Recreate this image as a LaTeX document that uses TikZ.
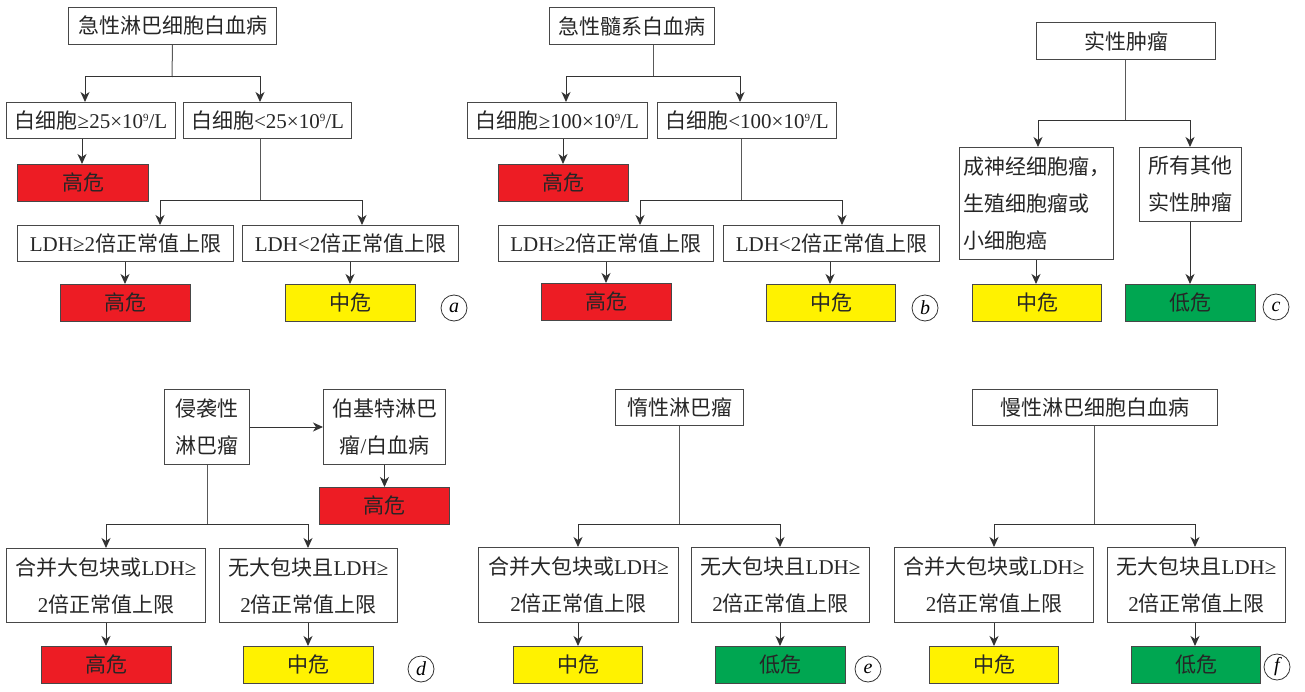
\documentclass[tikz,border=0pt]{standalone}
\usepackage{fontspec}
\setmainfont{Noto Sans CJK SC}
\newfontfamily\lat{Liberation Serif}
\usetikzlibrary{arrows.meta}
\definecolor{rd}{RGB}{237,28,36}
\definecolor{yl}{RGB}{255,242,0}
\definecolor{gn}{RGB}{0,166,81}
\newcommand\mysupr[1]{\raisebox{7pt}{\fontsize{11}{11}\selectfont #1}}
\tikzset{
  box/.style={draw=black!72, line width=1pt, inner sep=0pt, anchor=north west, align=center,
    text=black!85, font=\fontsize{21}{37}\selectfont},
  rbox/.style={box, fill=rd},
  ybox/.style={box, fill=yl},
  gbox/.style={box, fill=gn},
  ln/.style={draw=black!65, line width=1pt},
  arr/.style={draw=black!80, line width=1pt, -{Stealth[length=10pt,width=9pt,inset=3pt]}},
  lab/.style={circle, draw=black!80, line width=0.8pt, minimum size=26pt, inner sep=0pt,
    font=\lat\itshape\fontsize{20}{20}\selectfont}
}
\begin{document}
\begin{tikzpicture}[x=1pt,y=-1pt]
\useasboundingbox (0,0) rectangle (1305,692);
% ---------- panel a ----------
\node[box, minimum width=208pt, minimum height=37pt] (a0) at (68,7) {急性淋巴细胞白血病};
\node[box, minimum width=169pt, minimum height=36pt] (a1) at (6,102) {白细胞{\lat ≥25×10\mysupr{9}/L}};
\node[box, minimum width=168pt, minimum height=36pt] (a2) at (183,102) {白细胞{\lat <25×10\mysupr{9}/L}};
\node[rbox, minimum width=131pt, minimum height=37pt] (a3) at (17,164) {高危};
\node[box, minimum width=216pt, minimum height=36pt] (a4) at (17,225) {{\lat LDH≥2}倍正常值上限};
\node[box, minimum width=216pt, minimum height=36pt] (a5) at (242,225) {{\lat LDH<2}倍正常值上限};
\node[rbox, minimum width=130pt, minimum height=37pt] (a6) at (60,284) {高危};
\node[ybox, minimum width=130pt, minimum height=37pt] (a7) at (285,284) {中危};
\node[lab] (la) at (454,308) {a};
\coordinate (ja) at (172,77);
\coordinate (jb) at (260,201);
\draw[ln] (a0.south) -- (ja);
\draw[arr] (ja) -| (a1.north -| 85,0);
\draw[arr] (ja) -| (a2.north -| 260,0);
\draw[arr] (a1.south -| 82,0) -- (a3.north -| 82,0);
\draw[ln] (a2.south -| jb) -- (jb);
\draw[arr] (jb) -| (a4.north -| 160,0);
\draw[arr] (jb) -| (a5.north -| 362,0);
\draw[arr] (a4.south -| 125,0) -- (a6.north -| 125,0);
\draw[arr] (a5.south -| 350,0) -- (a7.north -| 350,0);
% ---------- panel b ----------
\node[box, minimum width=165pt, minimum height=37pt] (b0) at (549,7) {急性髓系白血病};
\node[box, minimum width=180pt, minimum height=36pt] (b1) at (467,102) {白细胞{\lat ≥100×10\mysupr{9}/L}};
\node[box, minimum width=179pt, minimum height=36pt] (b2) at (657,102) {白细胞{\lat <100×10\mysupr{9}/L}};
\node[rbox, minimum width=130pt, minimum height=37pt] (b3) at (498,164) {高危};
\node[box, minimum width=215pt, minimum height=36pt] (b4) at (498,225) {{\lat LDH≥2}倍正常值上限};
\node[box, minimum width=216pt, minimum height=36pt] (b5) at (723,225) {{\lat LDH<2}倍正常值上限};
\node[rbox, minimum width=130pt, minimum height=37pt] (b6) at (541,283) {高危};
\node[ybox, minimum width=129pt, minimum height=37pt] (b7) at (766,284) {中危};
\node[lab] (lb) at (925,308) {b};
\coordinate (jc) at (653,77);
\coordinate (jd) at (741,201);
\draw[ln] (b0.south -| jc) -- (jc);
\draw[arr] (jc) -| (b1.north -| 566,0);
\draw[arr] (jc) -| (b2.north -| 740,0);
\draw[arr] (b1.south -| 563,0) -- (b3.north -| 563,0);
\draw[ln] (b2.south -| jd) -- (jd);
\draw[arr] (jd) -| (b4.north -| 640,0);
\draw[arr] (jd) -| (b5.north -| 842,0);
\draw[arr] (b4.south -| 606,0) -- (b6.north -| 606,0);
\draw[arr] (b5.south -| 830,0) -- (b7.north -| 830,0);
% ---------- panel c ----------
\node[box, minimum width=179pt, minimum height=37pt] (c0) at (1036,22) {实性肿瘤};
\node[box, minimum width=154pt, minimum height=112pt, align=left] (c1) at (959,147) {成神经细胞瘤，\\生殖细胞瘤或\\小细胞癌};
\node[box, minimum width=102pt, minimum height=74pt] (c2) at (1139,147) {所有其他\\实性肿瘤};
\node[ybox, minimum width=129pt, minimum height=37pt] (c3) at (972,284) {中危};
\node[gbox, minimum width=130pt, minimum height=37pt] (c4) at (1125,284) {低危};
\node[lab] (lc) at (1276,307) {c};
\coordinate (je) at (1125,121);
\draw[ln] (c0.south -| je) -- (je);
\draw[arr] (je) -| (c1.north -| 1038,0);
\draw[arr] (je) -| (c2.north -| 1190,0);
\draw[arr] (c1.south -| 1036,0) -- (c3.north -| 1036,0);
\draw[arr] (c2.south -| 1190,0) -- (c4.north -| 1190,0);
% ---------- panel d ----------
\node[box, minimum width=85pt, minimum height=75pt] (d0) at (164,389) {侵袭性\\淋巴瘤};
\node[box, minimum width=122pt, minimum height=75pt] (d1) at (323,389) {伯基特淋巴\\瘤{\lat /}白血病};
\node[rbox, minimum width=130pt, minimum height=37pt] (d2) at (319,487) {高危};
\node[box, minimum width=199pt, minimum height=74pt] (d3) at (6,548) {合并大包块或{\lat LDH≥}\\{\lat 2}倍正常值上限};
\node[box, minimum width=178pt, minimum height=74pt] (d4) at (219,548) {无大包块且{\lat LDH≥}\\{\lat 2}倍正常值上限};
\node[rbox, minimum width=130pt, minimum height=37pt] (d5) at (41,646) {高危};
\node[ybox, minimum width=130pt, minimum height=37pt] (d6) at (243,646) {中危};
\node[lab] (ld) at (421,669) {d};
\coordinate (jf) at (207,524);
\draw[arr] (d0.east) -- (d1.west);
\draw[arr] (d1.south) -- (d2.north);
\draw[ln] (d0.south -| jf) -- (jf);
\draw[arr] (jf) -| (d3.north -| 106,0);
\draw[arr] (jf) -| (d4.north -| 308,0);
\draw[arr] (d3.south -| 106,0) -- (d5.north -| 106,0);
\draw[arr] (d4.south -| 308,0) -- (d6.north -| 308,0);
% ---------- panel e ----------
\node[box, minimum width=128pt, minimum height=36pt] (e0) at (615,389) {惰性淋巴瘤};
\node[box, minimum width=200pt, minimum height=75pt] (e1) at (478,547) {合并大包块或{\lat LDH≥}\\{\lat 2}倍正常值上限};
\node[box, minimum width=178pt, minimum height=75pt] (e2) at (691,547) {无大包块且{\lat LDH≥}\\{\lat 2}倍正常值上限};
\node[ybox, minimum width=129pt, minimum height=37pt] (e3) at (513,646) {中危};
\node[gbox, minimum width=130pt, minimum height=37pt] (e4) at (715,646) {低危};
\node[lab] (le) at (868,669) {e};
\coordinate (jg) at (679,524);
\draw[ln] (e0.south -| jg) -- (jg);
\draw[arr] (jg) -| (e1.north -| 578,0);
\draw[arr] (jg) -| (e2.north -| 780,0);
\draw[arr] (e1.south -| 578,0) -- (e3.north -| 578,0);
\draw[arr] (e2.south -| 780,0) -- (e4.north -| 780,0);
% ---------- panel f ----------
\node[box, minimum width=245pt, minimum height=36pt] (f0) at (972,389) {慢性淋巴细胞白血病};
\node[box, minimum width=199pt, minimum height=75pt] (f1) at (894,547) {合并大包块或{\lat LDH≥}\\{\lat 2}倍正常值上限};
\node[box, minimum width=178pt, minimum height=75pt] (f2) at (1107,547) {无大包块且{\lat LDH≥}\\{\lat 2}倍正常值上限};
\node[ybox, minimum width=129pt, minimum height=37pt] (f3) at (929,646) {中危};
\node[gbox, minimum width=129pt, minimum height=37pt] (f4) at (1131,646) {低危};
\node[lab] (lf) at (1277,667) {f};
\coordinate (jh) at (1094,524);
\draw[ln] (f0.south -| jh) -- (jh);
\draw[arr] (jh) -| (f1.north -| 994,0);
\draw[arr] (jh) -| (f2.north -| 1195,0);
\draw[arr] (f1.south -| 994,0) -- (f3.north -| 994,0);
\draw[arr] (f2.south -| 1195,0) -- (f4.north -| 1195,0);
\end{tikzpicture}
\end{document}
